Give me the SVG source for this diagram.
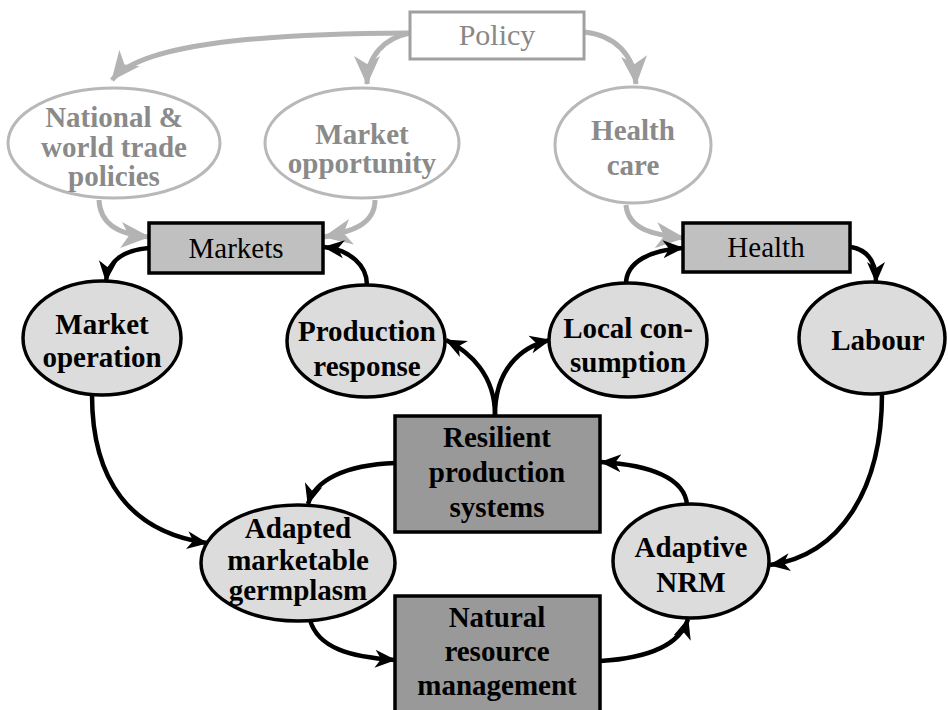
<svg xmlns="http://www.w3.org/2000/svg" width="948" height="710" viewBox="0 0 948 710">
<defs>
<marker id="ab" markerUnits="userSpaceOnUse" markerWidth="22" markerHeight="20" viewBox="0 0 22 20" refX="20" refY="10" orient="auto">
<path d="M0,1 L21,10 L0,19 L6,10 z" fill="#000"/>
</marker>
<marker id="ag" markerUnits="userSpaceOnUse" markerWidth="30" markerHeight="28" viewBox="0 0 30 28" refX="28" refY="14" orient="auto">
<path d="M0,1 L29,14 L0,27 L8,14 z" fill="#b3b3b3"/>
</marker>
<style>
text{font-family:"Liberation Serif","Times New Roman",serif;text-anchor:middle}
.g{fill:#fff;stroke:#b8b8b8;stroke-width:3}
.gt{fill:#8a8a8a;font-weight:bold;font-size:29px}
.e{fill:#dcdcdc;stroke:#000;stroke-width:3.5}
.et{fill:#000;font-weight:bold;font-size:29px}
.b{fill:#c0c0c0;stroke:#000;stroke-width:3.5}
.bt{fill:#000;font-size:29px}
.d{fill:#999;stroke:#000;stroke-width:3.5}
.cg{fill:none;stroke:#b3b3b3;stroke-width:5;marker-end:url(#ag)}
.cb{fill:none;stroke:#000;stroke-width:4.5;marker-end:url(#ab)}
</style>
</defs>
<g id="connectors">
<path class="cg" d="M410,33 C250,34 140,45 112,80"/>
<path class="cg" d="M410,33 C385,38 367,55 367,84"/>
<path class="cg" d="M584,32 C615,35 634,55 636,84"/>
<path class="cg" d="M99,200 C100,225 120,235 149,237"/>
<path class="cg" d="M375,200 C375,225 350,232 324,237"/>
<path class="cg" d="M626,205 C628,230 655,235 684,238"/>
<path class="cb" d="M149,248 C125,250 108,260 106,281"/>
<path class="cb" d="M367,285 C367,265 350,250 324,247"/>
<path class="cb" d="M626,284 C626,262 650,250 683,248"/>
<path class="cb" d="M851,247 C868,250 876,262 876,282"/>
<path class="cb" d="M495,415 C495,375 470,352 446,340"/>
<path class="cb" d="M495,415 C495,370 520,347 550,340"/>
<path class="cb" d="M395,463 C345,465 315,480 308,504"/>
<path class="cb" d="M687,505 C685,478 650,465 601,462"/>
<path class="cb" d="M92,395 C92,480 130,532 207,543"/>
<path class="cb" d="M882,394 C882,490 840,555 770,565"/>
<path class="cb" d="M310,620 C318,648 350,657 395,660"/>
<path class="cb" d="M600,661 C650,658 680,645 688,619"/>
</g>
<g id="policy">
<rect x="410" y="12" width="174" height="47" fill="#fff" stroke="#a0a0a0" stroke-width="3"/>
<text x="497" y="45" class="bt" style="fill:#888;font-size:30px">Policy</text>
</g>
<g id="national">
<ellipse cx="114" cy="143" rx="106" ry="55" class="g"/>
<text class="gt" x="114" y="127">National &amp;</text>
<text class="gt" x="114" y="157">world trade</text>
<text class="gt" x="114" y="186">policies</text>
</g>
<g id="opportunity">
<ellipse cx="362" cy="143" rx="97" ry="55" class="g"/>
<text class="gt" x="362" y="144">Market</text>
<text class="gt" x="362" y="173">opportunity</text>
</g>
<g id="healthcare">
<ellipse cx="633" cy="145" rx="78" ry="58" class="g"/>
<text class="gt" x="633" y="140">Health</text>
<text class="gt" x="633" y="175">care</text>
</g>
<g id="markets">
<rect x="149" y="223" width="174" height="50" class="b"/>
<text class="bt" x="236" y="258">Markets</text>
</g>
<g id="health">
<rect x="683" y="223" width="167" height="49" class="b"/>
<text class="bt" x="766" y="257">Health</text>
</g>
<g id="marketop">
<ellipse cx="102" cy="338" rx="79" ry="57" class="e"/>
<text class="et" x="102" y="334">Market</text>
<text class="et" x="102" y="367">operation</text>
</g>
<g id="prodresp">
<ellipse cx="366" cy="341" rx="79" ry="56" class="e"/>
<text class="et" x="367" y="341">Production</text>
<text class="et" x="367" y="376">response</text>
</g>
<g id="localcons">
<ellipse cx="628" cy="340" rx="79" ry="57" class="e"/>
<text class="et" x="628" y="338">Local con-</text>
<text class="et" x="628" y="372">sumption</text>
</g>
<g id="labour">
<ellipse cx="872" cy="338" rx="73" ry="56" class="e"/>
<text class="et" x="878" y="350">Labour</text>
</g>
<g id="resilient">
<rect x="395" y="416" width="205" height="116" class="d"/>
<text class="et" x="497" y="447">Resilient</text>
<text class="et" x="497" y="482">production</text>
<text class="et" x="497" y="517">systems</text>
</g>
<g id="germplasm">
<ellipse cx="298" cy="563" rx="97" ry="58" class="e"/>
<text class="et" x="298" y="538">Adapted</text>
<text class="et" x="298" y="570">marketable</text>
<text class="et" x="298" y="600">germplasm</text>
</g>
<g id="adaptivenrm">
<ellipse cx="691" cy="561" rx="78" ry="57" class="e"/>
<text class="et" x="691" y="557">Adaptive</text>
<text class="et" x="691" y="592">NRM</text>
</g>
<g id="nrm">
<rect x="395" y="596" width="205" height="120" class="d"/>
<text class="et" x="497" y="627">Natural</text>
<text class="et" x="497" y="661">resource</text>
<text class="et" x="497" y="695">management</text>
</g>
</svg>
